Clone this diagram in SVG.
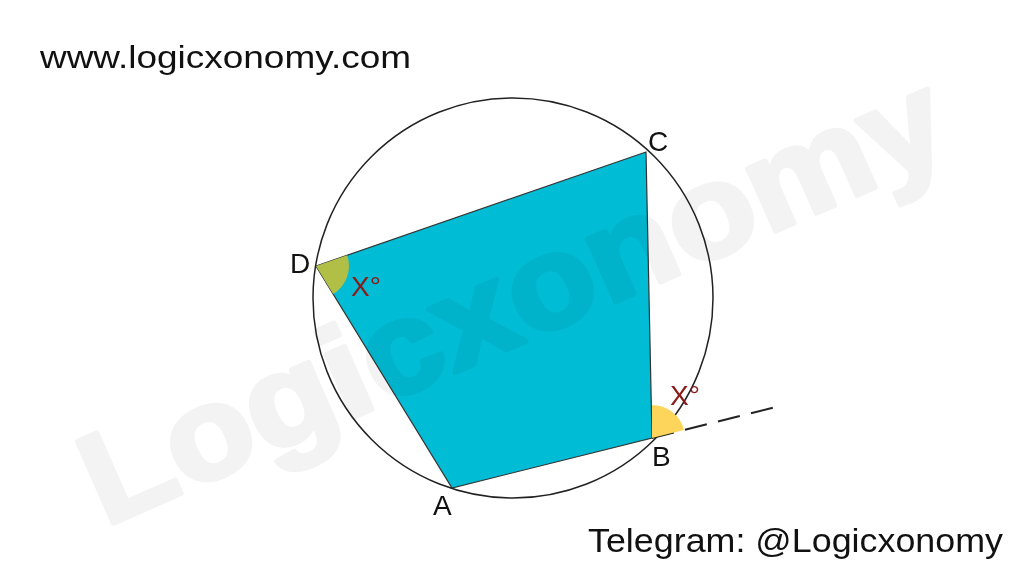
<svg xmlns="http://www.w3.org/2000/svg" width="1024" height="576" viewBox="0 0 1024 576">
<style>
.lbl{font-family:"Liberation Sans",Arial,sans-serif;font-size:28px;fill:#111}
.ang{font-family:"Liberation Sans",Arial,sans-serif;font-size:28px;fill:#8b1a1a}
.web{font-family:"Liberation Sans",Arial,sans-serif;fill:#111}
</style>
<rect width="1024" height="576" fill="#fff"/>
<text class="web" x="40" y="68" font-size="31" textLength="371" lengthAdjust="spacingAndGlyphs">www.logicxonomy.com</text>
<g id="quad">
<polygon points="316,266 646,152 652,438 452,488" fill="#00bcd4" stroke="#333" stroke-width="1.2"/>
</g>
<g id="watermark">
<text x="0" y="0" transform="translate(105,527) rotate(-23.8)" font-family="Liberation Sans,Arial,sans-serif" font-weight="bold" font-size="130" fill="#f3f3f3" stroke="#f3f3f3" stroke-width="5" stroke-linejoin="round" style="mix-blend-mode:multiply" textLength="930" lengthAdjust="spacingAndGlyphs">Logicxonomy</text>
</g>
<g id="connectors">
<circle cx="513" cy="298" r="200" fill="none" stroke="#222" stroke-width="1.5"/>
<line x1="652" y1="438" x2="776" y2="407" stroke="#222" stroke-width="2" stroke-dasharray="22.5 11.5"/>
</g>
<g id="angleD">
<path d="M316,266 L347.2,255.2 A33,33 0 0 1 333.2,294.1 Z" fill="#b1bf46"/>
</g>
<g id="angleB">
<path d="M652,438 L652,405 A33,33 0 0 1 684,430 Z" fill="#fdd55a"/>
</g>
<g id="labels">
<text class="lbl" x="290" y="273">D</text>
<text class="lbl" x="648" y="151">C</text>
<text class="lbl" x="652" y="466">B</text>
<text class="lbl" x="433" y="515">A</text>
<text class="ang" x="351" y="296">X°</text>
<text class="ang" x="670" y="405">X°</text>
</g>
<text class="web" x="588" y="552" font-size="33" textLength="415" lengthAdjust="spacingAndGlyphs">Telegram: @Logicxonomy</text>
</svg>
